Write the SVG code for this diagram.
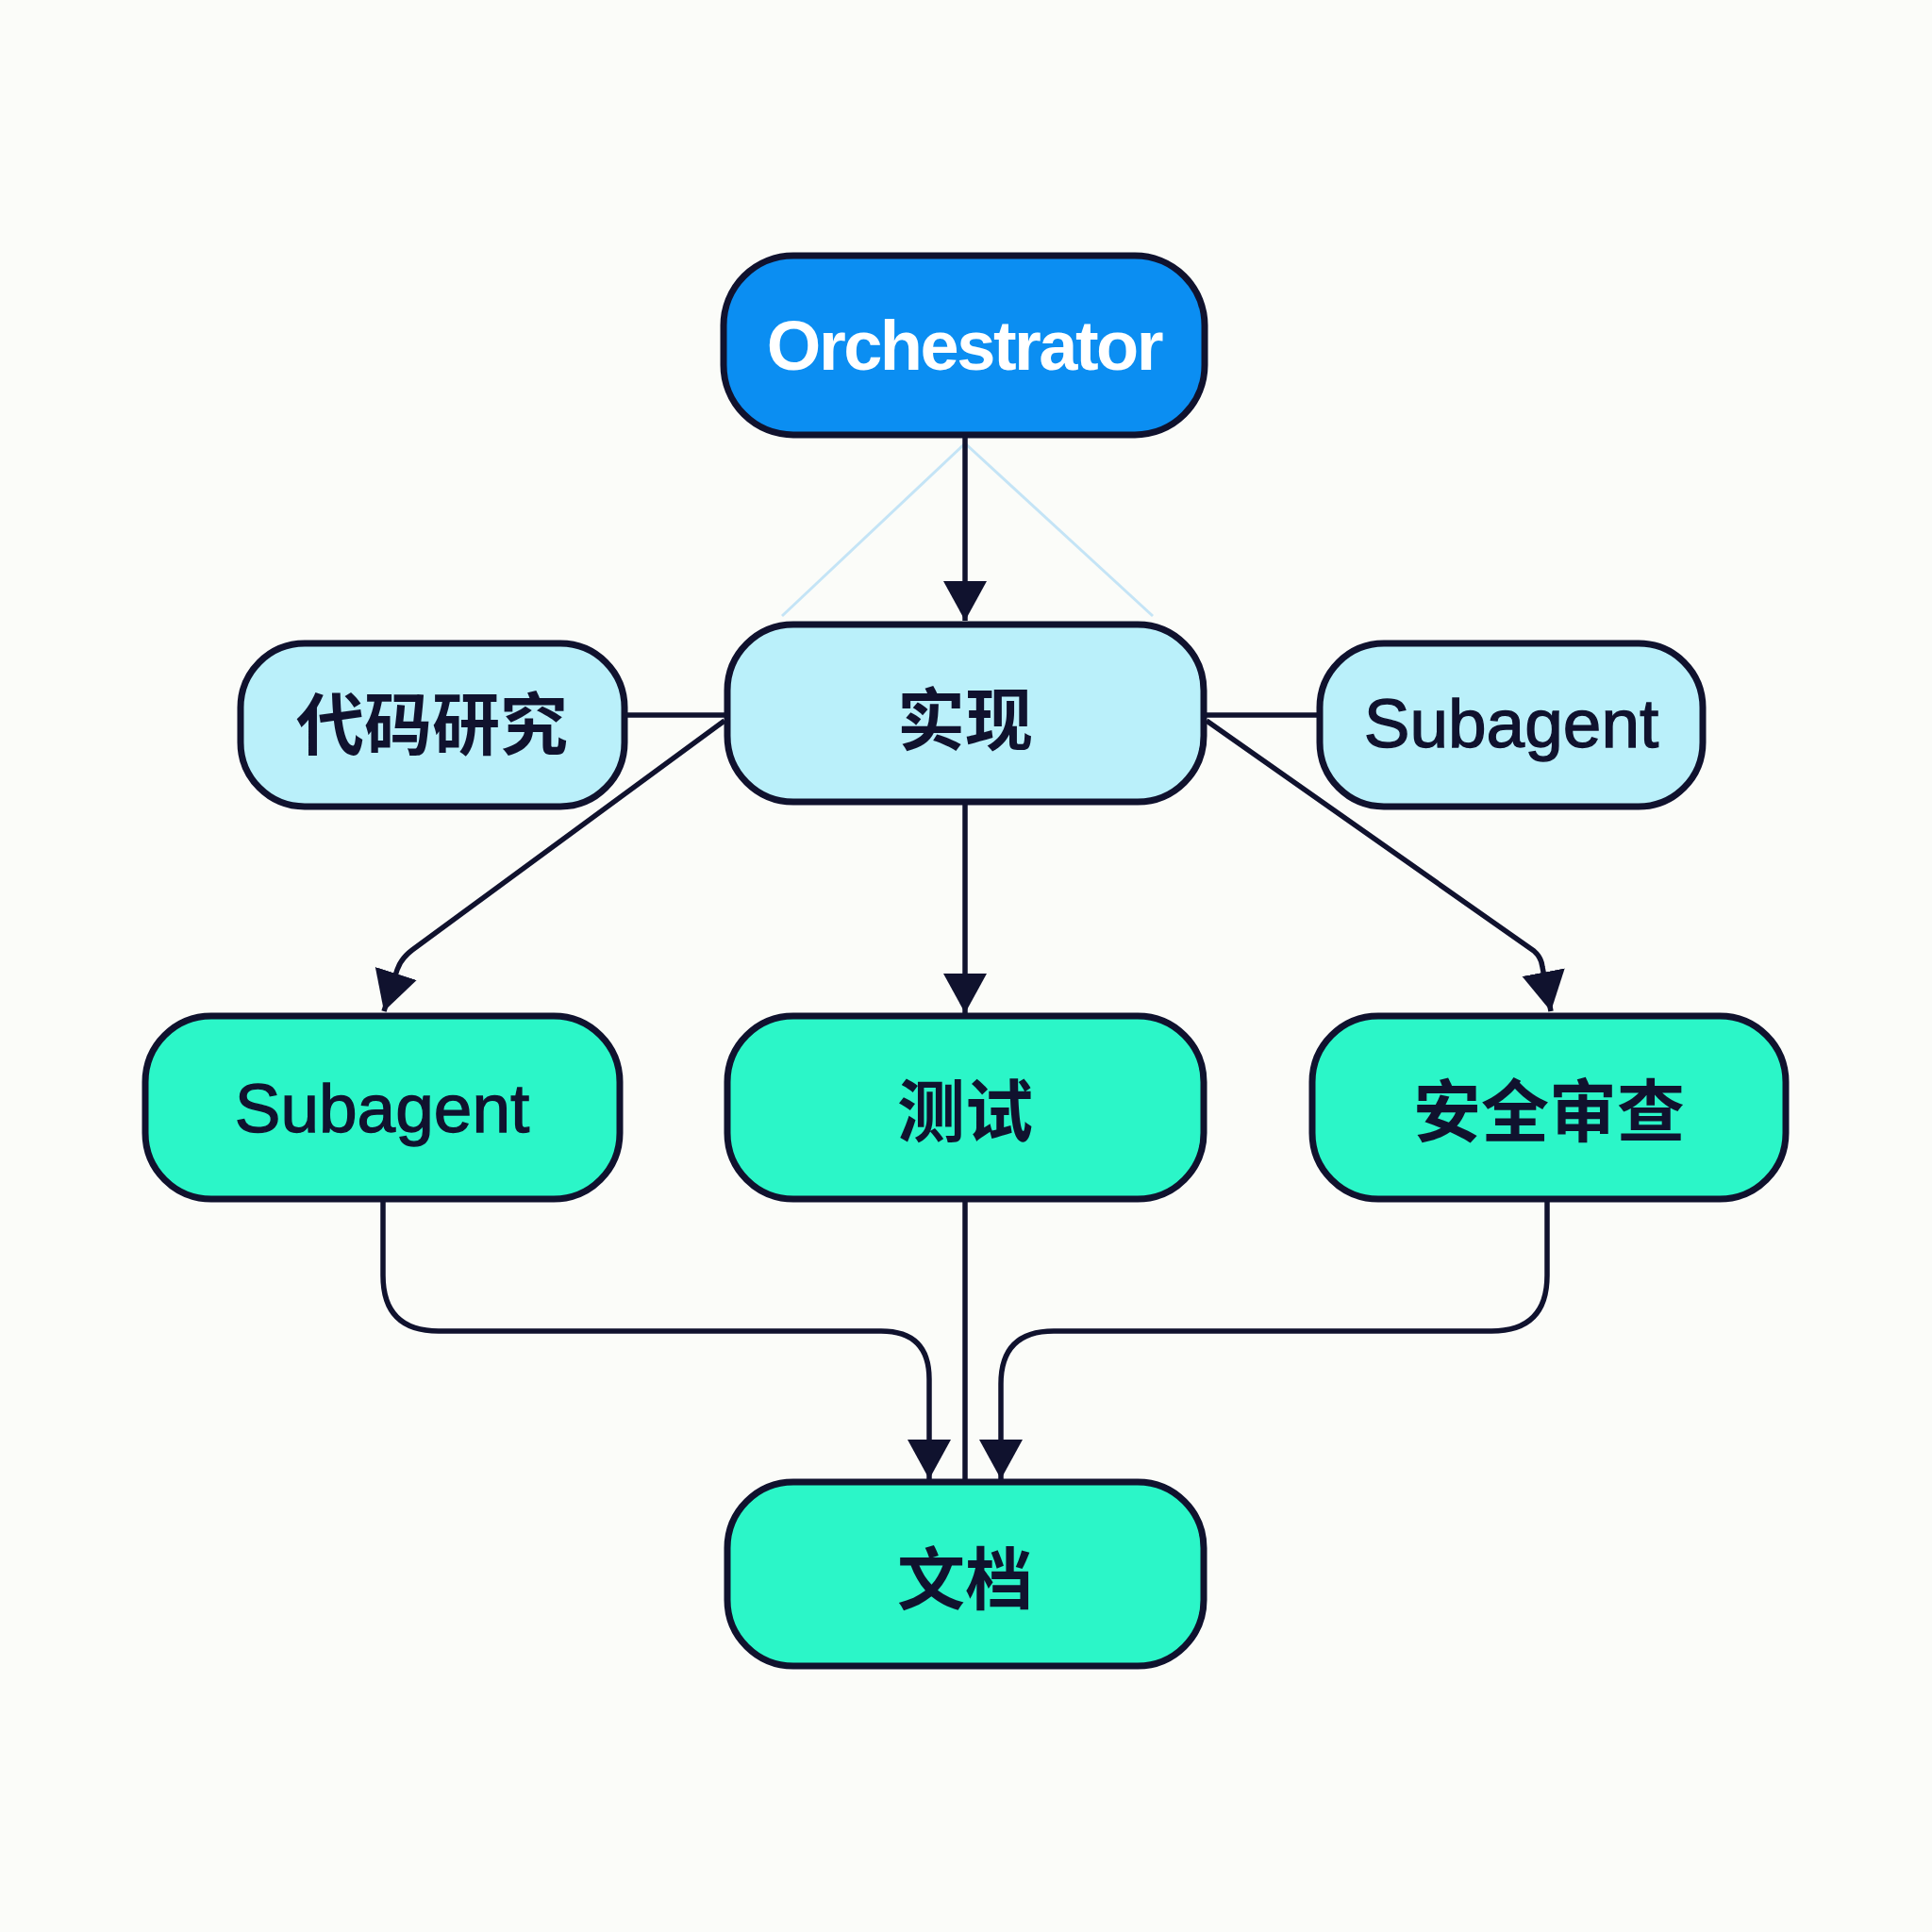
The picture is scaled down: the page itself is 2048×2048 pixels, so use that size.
<svg xmlns="http://www.w3.org/2000/svg" width="2048" height="2048" viewBox="0 0 2048 2048">
<style>
.box{stroke:#10122e;stroke-width:7}
.orch{fill:#0b8ef2}
.light{fill:#baf0fa}
.green{fill:#2bf6c8}
.en{font-family:"Liberation Sans",Arial,sans-serif;font-size:73px;fill:#10122e;stroke:#10122e;stroke-width:1.3;text-anchor:middle;dominant-baseline:central}
.zh{font-family:"Noto Sans CJK SC","Noto Sans",sans-serif;font-size:72px;font-weight:700;fill:#10122e;text-anchor:middle;dominant-baseline:central}
.title{font-family:"Liberation Sans",Arial,sans-serif;font-size:74px;font-weight:700;fill:#ffffff;text-anchor:middle;dominant-baseline:central;letter-spacing:-2.5px}
.conn{fill:none;stroke:#10122e;stroke-width:5.5;stroke-linejoin:round}
.faint{fill:none;stroke:#c4e4f6;stroke-width:3}
</style>
<defs>
<marker id="arr" markerUnits="userSpaceOnUse" markerWidth="46" markerHeight="48" refX="42" refY="24" orient="auto">
<path d="M0,1 L42,24 L0,47 z" fill="#10122e"/>
</marker>
</defs>
<rect x="0" y="0" width="2048" height="2048" fill="#fbfcf9"/>
<g id="connectors">
<path class="faint" d="M1023,470 L829,653"/>
<path class="faint" d="M1023,470 L1222,653"/>
<path class="conn" d="M1023,461 L1023,658" marker-end="url(#arr)"/>
<path class="conn" d="M662,758 L771,758"/>
<path class="conn" d="M1276,758 L1399,758"/>
<path class="conn" d="M768,764 L437,1007 Q425,1016 421,1028 L407,1072" marker-end="url(#arr)"/>
<path class="conn" d="M1279,764 L1626,1008 Q1634,1015 1635,1025 L1644,1072" marker-end="url(#arr)"/>
<path class="conn" d="M1023,850 L1023,1074" marker-end="url(#arr)"/>
<path class="conn" d="M406,1271 L406,1352 Q406,1411 465,1411 L934,1411 Q985,1411 985,1462 L985,1568" marker-end="url(#arr)"/>
<path class="conn" d="M1023,1271 L1023,1571"/>
<path class="conn" d="M1640,1271 L1640,1352 Q1640,1411 1581,1411 L1117,1411 Q1061,1411 1061,1467 L1061,1568" marker-end="url(#arr)"/>
</g>
<g id="orchestrator">
<rect class="box orch" x="767" y="271" width="510" height="190" rx="74"/>
<text class="title" x="1022" y="366">Orchestrator</text>
</g>
<g id="shixian">
<rect class="box light" x="771" y="662" width="505" height="188" rx="70"/>
<text class="zh" x="1023" y="757">实现</text>
</g>
<g id="daima">
<rect class="box light" x="255" y="682" width="407" height="173" rx="68"/>
<text class="zh" x="458" y="762">代码研究</text>
</g>
<g id="subagent-top">
<rect class="box light" x="1399" y="682" width="406" height="173" rx="68"/>
<text class="en" x="1602" y="766">Subagent</text>
</g>
<g id="subagent-left">
<rect class="box green" x="154" y="1077" width="503" height="194" rx="70"/>
<text class="en" x="405" y="1174">Subagent</text>
</g>
<g id="ceshi">
<rect class="box green" x="771" y="1077" width="505" height="194" rx="70"/>
<text class="zh" x="1023" y="1172">测试</text>
</g>
<g id="anquan">
<rect class="box green" x="1391" y="1077" width="502" height="194" rx="70"/>
<text class="zh" x="1642" y="1172">安全审查</text>
</g>
<g id="wendang">
<rect class="box green" x="771" y="1571" width="505" height="195" rx="70"/>
<text class="zh" x="1023" y="1668">文档</text>
</g>
</svg>
